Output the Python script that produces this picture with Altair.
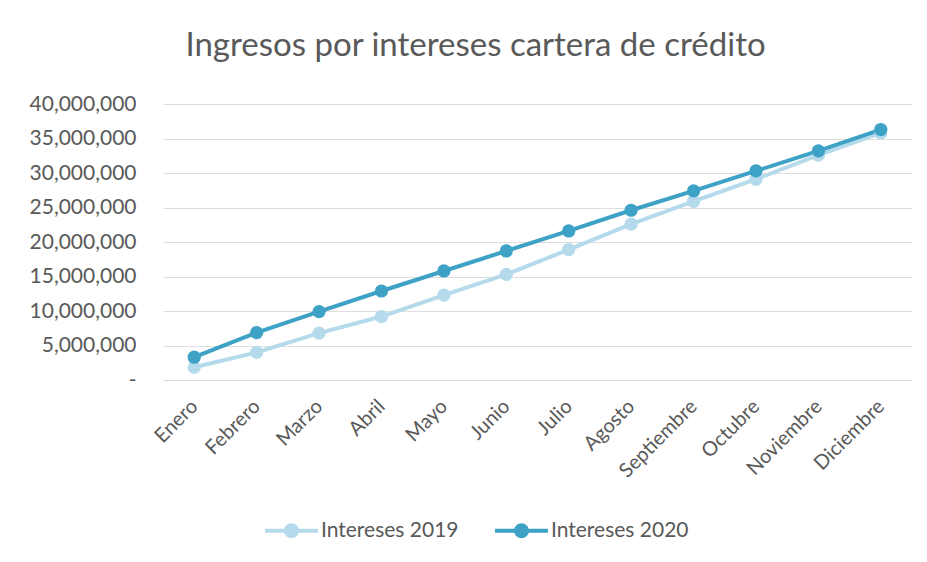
import altair as alt
import pandas as pd

meses = ["Enero", "Febrero", "Marzo", "Abril", "Mayo", "Junio", "Julio",
         "Agosto", "Septiembre", "Octubre", "Noviembre", "Diciembre"]
intereses_2019 = [1840000, 4000000, 6800000, 9200000, 12300000, 15300000,
                  18900000, 22600000, 25900000, 29100000, 32600000, 35800000]
intereses_2020 = [3300000, 6860000, 9900000, 12900000, 15800000, 18700000,
                  21600000, 24600000, 27400000, 30300000, 33200000, 36300000]
series = ["Intereses 2019", "Intereses 2020"]
colores = ["#b5daeb", "#3ea2c6"]
y_ticks = [0, 5000000, 10000000, 15000000, 20000000, 25000000, 30000000, 35000000, 40000000]

rows = []
for s, vals in zip(series, [intereses_2019, intereses_2020]):
    for m, v in zip(meses, vals):
        rows.append({"Mes": m, "Valor": v, "Serie": s})
df = pd.DataFrame(rows)

FONT = "Lato"
GRAY = "#595959"
legend_path = ("M-1,-0.075H-0.27V0.075H-1Z "
               "M0.27,-0.075H1V0.075H0.27Z "
               "M0.28,0A0.28,0.28 0 1 1 -0.28,0A0.28,0.28 0 1 1 0.28,0Z")

x = alt.X("Mes:N", sort=meses, scale=alt.Scale(paddingInner=0, paddingOuter=0.5),
          axis=alt.Axis(title=None, labelAngle=-45, labelAlign="right", labelBaseline="middle",
                        labelFontSize=20, labelColor=GRAY, labelFont=FONT, ticks=False,
                        domain=True, domainColor="#d9d9d9", labelPadding=23, grid=False))
y = alt.Y("Valor:Q", scale=alt.Scale(domain=[0, 40000000]),
          axis=alt.Axis(title=None, values=y_ticks, ticks=False, domain=False,
                        labelFontSize=21, labelColor=GRAY, labelFont=FONT, labelPadding=27,
                        gridColor="#dedede", gridWidth=1,
                        labelExpr="datum.value == 0 ? '-\u2002\u2002' : format(datum.value, ',')"))
color = alt.Color("Serie:N", scale=alt.Scale(domain=series, range=colores),
                  legend=alt.Legend(title=None, orient="none", direction="horizontal",
                                    legendX=102, legendY=400, symbolType=legend_path,
                                    symbolSize=2809, symbolStrokeWidth=0, labelFontSize=21,
                                    labelColor=GRAY, labelFont=FONT, columnPadding=36,
                                    labelOffset=3))

line = alt.Chart(df).mark_line(strokeWidth=4).encode(x=x, y=y, color=color)
pts = alt.Chart(df).mark_point(filled=True, size=175, opacity=1).encode(x=x, y=y, color=color)

chart = alt.layer(line, pts).properties(
    width=749, height=276,
    title=alt.TitleParams("Ingresos por intereses cartera de crédito", fontSize=33,
                          font=FONT, color=GRAY, fontWeight="normal", anchor="middle",
                          dx=-62, offset=30),
    padding={"left": 155, "top": 96, "right": 7, "bottom": 170},
    autosize=alt.AutoSizeParams(type="none"),
).configure(background="white").configure_view(stroke=None)

chart.save("out.html", embed_options={"renderer": "svg", "actions": False})
